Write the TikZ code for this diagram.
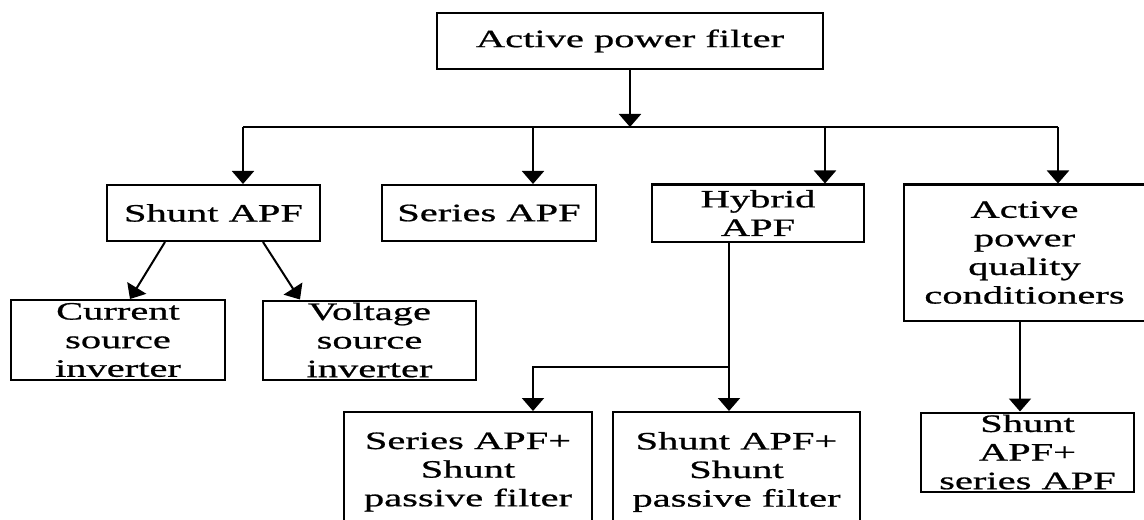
\documentclass[tikz,border=0pt]{standalone}
\usepackage{fontspec}
\setmainfont{Liberation Serif}[FakeStretch=1.62, FakeBold=0.8]
\usetikzlibrary{positioning, arrows.meta, calc}

\begin{document}
\begin{tikzpicture}[
        every node/.style={draw, line width=1pt, align=center, inner sep=0pt, font=\fontsize{12.5pt}{14.3pt}\selectfont},
        arrow/.style={-{Triangle[width=11pt, length=6.5pt]}, line width=1pt},
        line/.style={line width=1pt}
      ]

    \useasboundingbox (-315pt,20.5pt) rectangle (257pt,-239pt);

    \node (apf) [minimum width=193pt, minimum height=28pt] at (0,0) {Active power filter};
    \node (shunt) [minimum width=106.5pt, minimum height=28pt, below left=57pt and 57.5pt of apf] {Shunt APF};
    \node (series) [minimum width=107pt, minimum height=28pt, right=30pt of shunt] {Series APF};
    \node (hybrid) [minimum width=106pt, minimum height=28.5pt, right=27pt of series] {Hybrid\\APF};
    \node (apqc) [minimum width=120.5pt, minimum height=68pt, below right=0pt and 19pt of hybrid.north east] {Active\\power\\quality\\conditioners};
    \node (current) [minimum width=107pt, minimum height=40pt, below=28.5pt of shunt, xshift=-47.75pt] {Current\\source\\inverter};
    \node (voltage) [minimum width=106.5pt, minimum height=39.5pt, right=18pt of current] {Voltage\\source\\inverter};
    \node (serpas) [minimum width=124pt, minimum height=60pt, below=84.5pt of series, xshift=-10.5pt] {Series APF+\\Shunt\\passive filter};
    \node (shupas) [minimum width=123.5pt, minimum height=60pt, right=9.5pt of serpas] {Shunt APF+\\Shunt\\passive filter};
    \node (shuser) [minimum width=106.5pt, minimum height=39.5pt, below=45pt of apqc, xshift=1.5pt] {Shunt\\APF+\\series APF};

    \coordinate (bus) at ([yshift=-28.5pt]apf.south);
    \coordinate (toshunt) at ([xshift=14.75pt]shunt.north);
    \coordinate (toseries) at ([xshift=22pt]series.north);
    \coordinate (tohybrid) at ([xshift=33.5pt]hybrid.north);
    \coordinate (toapqc) at ([xshift=16.75pt]apqc.north);
    \coordinate (split) at ([xshift=-14.5pt, yshift=-62pt]hybrid.south);

    \draw[arrow] (apf) -- (bus);
    \draw[line] (toshunt |- bus) -- (toapqc |- bus);
    \foreach \n in {toshunt, toseries, tohybrid, toapqc}
      \draw[arrow] (\n |- bus) -- (\n);
    \draw[arrow] ([xshift=-24.25pt]shunt.south) -- ([xshift=6pt]current.north);
    \draw[arrow] ([xshift=24.75pt]shunt.south) -- ([xshift=-34.75pt]voltage.north);
    \draw[arrow] ([xshift=-14.5pt]hybrid.south) -- (split |- shupas.north);
    \draw[arrow] (split) -| ([xshift=32.5pt]serpas.north);
    \draw[arrow] ([xshift=-2.25pt]apqc.south) -- ([xshift=-3.75pt]shuser.north);

\end{tikzpicture}
\end{document}
